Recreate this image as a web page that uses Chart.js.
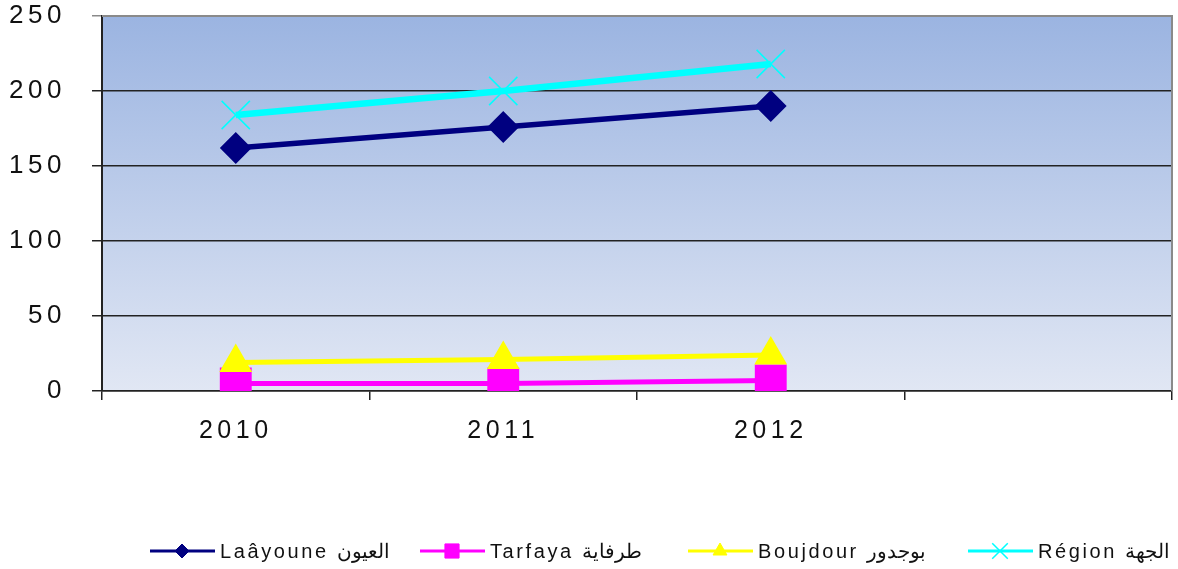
<!DOCTYPE html>
<html><head><meta charset="utf-8">
<script src="https://cdn.jsdelivr.net/npm/chart.js@4/dist/chart.umd.min.js"></script>
<style>html,body{margin:0;padding:0;background:#fff}#wrap{width:1178px;height:569px}</style>
</head><body><div id="wrap"><canvas id="c" width="1178" height="569"></canvas></div>
<script>
const categories = ['2010', '2011', '2012', ''];
const laayoune = [162, 176, 190];
const tarfaya = [5, 5, 7];
const boujdour = [19, 21, 24];
const region = [184, 200, 218];
const seriesNames = ['Laâyoune العيون', 'Tarfaya طرفاية', 'Boujdour بوجدور', 'Région الجهة'];
const yTicks = [0, 50, 100, 150, 200, 250];

const FONT = '"Liberation Sans", Arial, sans-serif';

const bgPlugin = {
  id: 'bg',
  beforeDraw(chart) {
    const {ctx, chartArea: a} = chart;
    const g = ctx.createLinearGradient(0, a.top, 0, a.bottom);
    g.addColorStop(0, '#9bb4e1');
    g.addColorStop(1, '#e1e7f4');
    ctx.save(); ctx.fillStyle = g; ctx.fillRect(a.left, a.top, a.right - a.left, a.bottom - a.top); ctx.restore();
    ctx.letterSpacing = '4.5px';
  },
  beforeDatasetsDraw(chart) {
    const {ctx, chartArea: a} = chart;
    ctx.save();
    ctx.strokeStyle = '#8a8a8a'; ctx.lineWidth = 2;
    ctx.beginPath(); ctx.moveTo(a.left, a.top); ctx.lineTo(a.right, a.top); ctx.lineTo(a.right, a.bottom); ctx.stroke();
    ctx.restore();
  }
};

const legendPlugin = {
  id: 'customLegend',
  afterDraw(chart) {
    const ctx = chart.ctx;
    const xs = [150, 420, 688, 968];
    const y = 551;
    ctx.save();
    ctx.font = '20px ' + FONT;
    ctx.letterSpacing = '2.6px';
    ctx.textBaseline = 'middle';
    chart.data.datasets.forEach((ds, i) => {
      const x = xs[i];
      ctx.strokeStyle = ds.borderColor; ctx.lineWidth = 3;
      ctx.beginPath(); ctx.moveTo(x, y); ctx.lineTo(x + 65, y); ctx.stroke();
      ctx.fillStyle = ds.pointBackgroundColor; ctx.strokeStyle = ds.pointBorderColor;
      ctx.lineWidth = ds.pointStyle === 'crossRot' ? 1.5 : 1;
      Chart.helpers.drawPoint(ctx, {pointStyle: ds.pointStyle, rotation: 0, radius: ds.legendRadius, borderWidth: 1}, x + 32, y);
      ctx.fillStyle = '#111';
      ctx.fillText(ds.label, x + 70, y + 1);
    });
    ctx.restore();
  }
};

function zeroPad(s) { s.paddingTop = 0; s.paddingBottom = 0; s.paddingLeft = 0; s.paddingRight = 0; }

new Chart(document.getElementById('c'), {
  type: 'line',
  data: {
    labels: categories,
    datasets: [
      {label: seriesNames[0], data: laayoune, borderColor: '#000080', backgroundColor: '#000080',
       pointBackgroundColor: '#000080', pointBorderColor: '#000080', borderWidth: 5.5,
       pointStyle: 'rectRot', pointRadius: 12, pointHoverRadius: 12, legendRadius: 7, order: 2},
      {label: seriesNames[1], data: tarfaya, borderColor: '#ff00ff', backgroundColor: '#ff00ff',
       pointBackgroundColor: '#ff00ff', pointBorderColor: '#ff00ff', borderWidth: 5,
       pointStyle: 'rect', pointRadius: 19, pointHoverRadius: 19, legendRadius: 10, order: 3},
      {label: seriesNames[2], data: boujdour, borderColor: '#ffff00', backgroundColor: '#ffff00',
       pointBackgroundColor: '#ffff00', pointBorderColor: '#ffff00', borderWidth: 5,
       pointStyle: 'triangle', pointRadius: 14, pointHoverRadius: 14, legendRadius: 8, order: 1},
      {label: seriesNames[3], data: region, borderColor: '#00ffff', backgroundColor: '#00ffff',
       pointBackgroundColor: '#00ffff', pointBorderColor: '#00ffff', borderWidth: 6.5, pointBorderWidth: 1.5,
       pointStyle: 'crossRot', pointRadius: 20, pointHoverRadius: 20, legendRadius: 11, order: 0}
    ]
  },
  options: {
    responsive: false, animation: false,
    layout: {autoPadding: false, padding: {left: 0, top: 16, right: 6, bottom: 0}},
    plugins: {legend: {display: false}, tooltip: {enabled: false}},
    elements: {line: {tension: 0}},
    scales: {
      x: {
        offset: true,
        grid: {offset: true, drawOnChartArea: false, drawTicks: true, tickLength: 9, color: '#222', lineWidth: 1.5},
        border: {display: true, color: '#222', width: 1.5},
        ticks: {font: {size: 25, family: FONT}, color: '#111', padding: 16, maxRotation: 0},
        afterFit(s) { s.height = 178; zeroPad(s); }
      },
      y: {
        min: 0, max: 250,
        afterBuildTicks(s) { s.ticks = yTicks.map(v => ({value: v})); },
        grid: {color: (c) => c.tick && c.tick.value === 250 ? '#8a8a8a' : '#222', tickLength: 10, lineWidth: 1.5},
        border: {display: true, color: '#222', width: 2},
        ticks: {font: {size: 26, family: FONT}, color: '#111', padding: 26},
        afterFit(s) { s.width = 102; zeroPad(s); }
      }
    }
  },
  plugins: [bgPlugin, legendPlugin]
});
</script></body></html>
